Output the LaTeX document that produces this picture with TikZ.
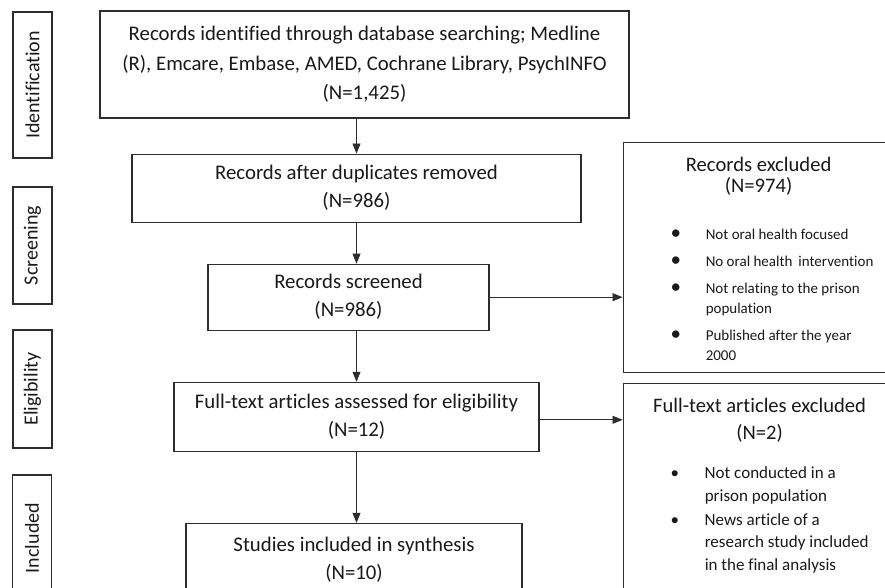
\documentclass[tikz,border=0pt]{standalone}
\usepackage{fontspec}
\setmainfont{Carlito}[Ligatures={NoCommon}]
\usepackage{tikz}
\usetikzlibrary{positioning,arrows.meta}
\usepackage{xcolor}
\definecolor{prismaline}{RGB}{45,45,45}
\definecolor{prismatext}{RGB}{25,25,25}

\begin{document}
\begin{tikzpicture}[
    x=1pt, y=-1pt,
    every node/.style={text=prismatext},
    flowbox/.style={rectangle, draw=prismaline, line width=1.1pt, inner sep=0pt, align=center, font=\fontsize{20.8}{28}\selectfont},
    exclbox/.style={rectangle, draw=prismaline, line width=1.1pt, inner sep=0pt, minimum width=290pt},
    exclhead/.style={inner sep=0pt, align=center, font=\fontsize{20.6}{21}\selectfont},
    stagebox/.style={rectangle, draw=prismaline, line width=1.1pt, rotate=90, inner sep=0pt, minimum height=39pt, font=\fontsize{20}{24}\selectfont},
    flowarrow/.style={-{Triangle[length=10pt, width=8pt]}, draw=prismaline, line width=0.75pt}
]
\useasboundingbox (0,0) rectangle (885,587);
\clip (0,0) rectangle (885,587);

% Stage labels
\node[stagebox, minimum width=146pt] (ident) at (32.5,85) {Identification};
\node[stagebox, minimum width=117pt] (screen) at (32.5,245.5) {Screening};
\node[stagebox, minimum width=118pt] (elig) at (32.5,389) {Eligibility};
\node[stagebox, minimum width=126pt] (incl) at (32,538) {Included};

% Main flow
\node[flowbox, minimum width=529pt, minimum height=107pt, font=\fontsize{20.8}{29.5}\selectfont] (found) at (364.5,64.5)
    {Records identified through database searching; Medline\\(R), Emcare, Embase, AMED, Cochrane Library, PsychINFO\\(N=1,425)};
\node[flowbox, minimum width=449pt, minimum height=68pt, below=35pt of found, xshift=-8pt] (nodup)
    {Records after duplicates removed\\(N=986)};
\node[flowbox, minimum width=281pt, minimum height=66pt, below=41pt of nodup, xshift=-8pt] (screened)
    {Records screened\\(N=986)};
\node[flowbox, minimum width=365pt, minimum height=69pt, below=51pt of screened, xshift=8pt] (fulltext)
    {Full-text articles assessed for eligibility\\(N=12)};
\node[flowbox, minimum width=336pt, minimum height=72pt, below=71pt of fulltext, xshift=-2.5pt] (synth)
    {Studies included in synthesis\\(N=10)};

% Exclusion boxes
\node[exclbox, minimum height=230pt, right=133pt of screened, yshift=40pt] (excl1) {};
\node[exclbox, minimum height=230pt, right=83pt of fulltext, yshift=-82pt] (excl2) {};

\node[exclhead, below=15pt of excl1.north, xshift=-9.5pt] (excl1head) {Records excluded\\(N=974)};
\node[inner sep=0pt, anchor=north west, xshift=43pt, yshift=-84pt] (excl1list) at (excl1.north west) {%
    \fontsize{15}{20}\selectfont
    \begin{tabular}{@{}l@{\hspace{20pt}}l@{}}
    \makebox[20pt]{\fontsize{21}{20}\selectfont\textbullet} & Not oral health focused\\[7pt]
    \makebox[20pt]{\fontsize{21}{20}\selectfont\textbullet} & No oral health\hspace{6pt}intervention\\[7pt]
    \makebox[20pt]{\fontsize{21}{20}\selectfont\textbullet} & Not relating to the prison\\
     & population\\[7pt]
    \makebox[20pt]{\fontsize{21}{20}\selectfont\textbullet} & Published after the year\\
     & 2000
    \end{tabular}};

\node[exclhead, below=15pt of excl2.north, xshift=-8.5pt, font=\fontsize{20.6}{27}\selectfont] (excl2head) {Full-text articles excluded\\(N=2)};
\node[inner sep=0pt, anchor=north west, xshift=42pt, yshift=-79.5pt] (excl2list) at (excl2.north west) {%
    \fontsize{17}{22.5}\selectfont
    \begin{tabular}{@{}l@{\hspace{20pt}}l@{}}
    \makebox[20pt]{\textbullet} & Not conducted in a\\
     & prison population\\[1.5pt]
    \makebox[20pt]{\textbullet} & News article of a\\
     & research study included\\
     & in the final analysis
    \end{tabular}};

% Connectors
\draw[flowarrow] (found.south -| nodup.north) -- (nodup.north);
\draw[flowarrow] (nodup.south) -- (nodup.south |- screened.north);
\draw[flowarrow] (screened.east) -- (screened.east -| excl1.west);
\draw[flowarrow] (screened.south -| fulltext.north) -- (fulltext.north);
\draw[flowarrow] ([yshift=-3pt]fulltext.east) -- ([yshift=-3pt]fulltext.east -| excl2.west);
\draw[flowarrow] (fulltext.south) -- (fulltext.south |- synth.north);

\end{tikzpicture}
\end{document}
